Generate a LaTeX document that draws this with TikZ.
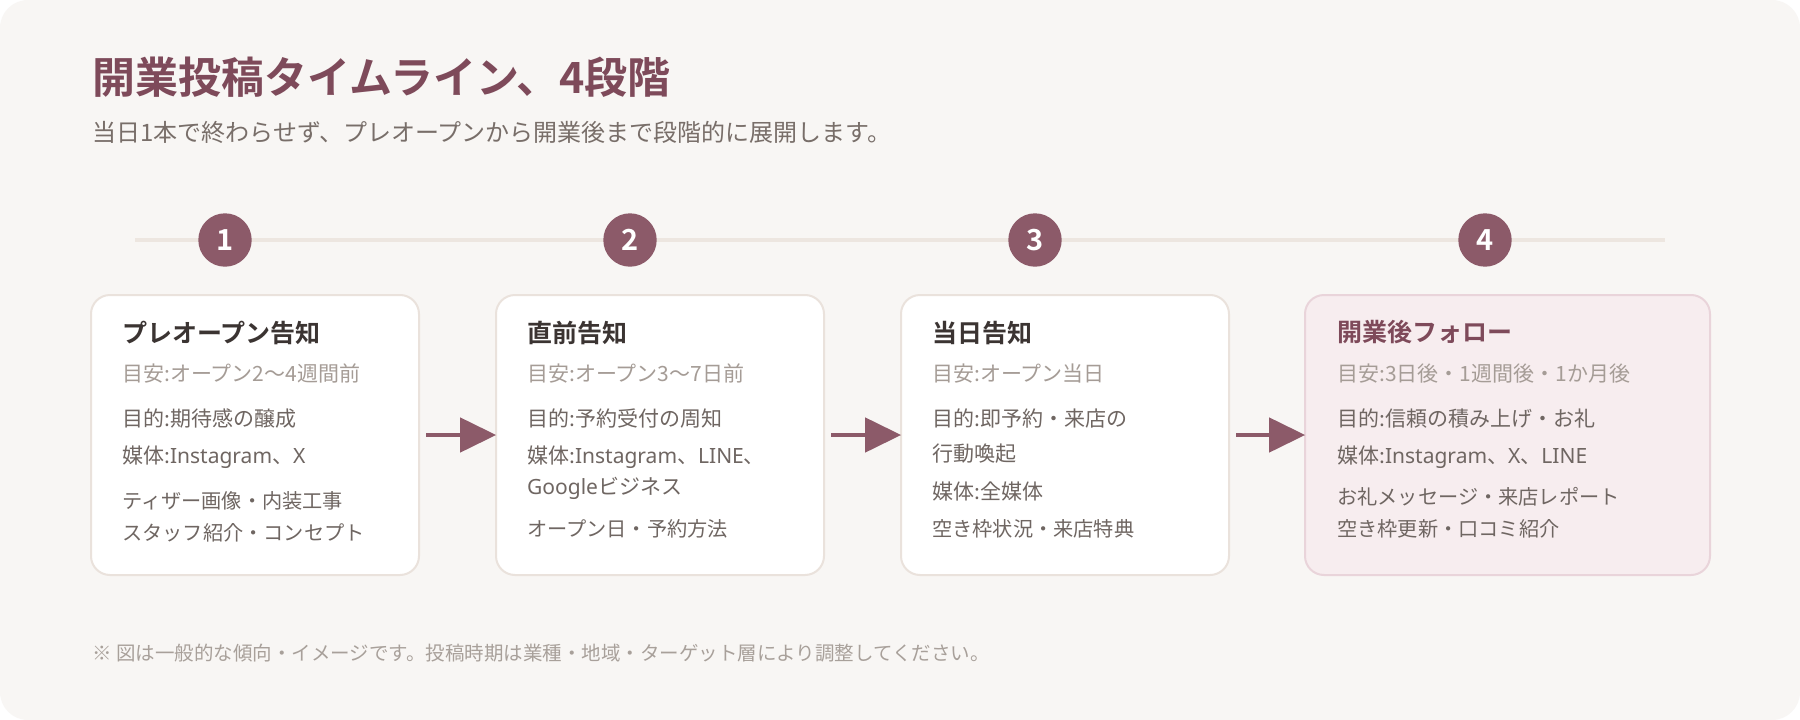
\documentclass[tikz,border=0pt]{standalone}
\usepackage{fontspec}
\setmainfont{Noto Sans CJK JP}[BoldFont={Noto Sans CJK JP Bold}]
\newfontfamily\latin{Noto Sans}
\usetikzlibrary{arrows.meta}
\definecolor{bgc}{HTML}{F8F6F4}
\definecolor{tline}{HTML}{EDE6E0}
\definecolor{mauve}{HTML}{8C5A69}
\definecolor{titlec}{HTML}{7E4A5A}
\definecolor{boxline}{HTML}{EAE2DC}
\definecolor{pinkfill}{HTML}{F7EDEF}
\definecolor{pinkline}{HTML}{E9D4DA}
\definecolor{headc}{HTML}{3B3432}
\definecolor{subc}{HTML}{A59C96}
\definecolor{bodyc}{HTML}{6F6662}
\definecolor{leadc}{HTML}{786E69}
\definecolor{footc}{HTML}{A8A09A}
\newcommand{\lt}[1]{{\latin #1}}
\begin{document}
\begin{tikzpicture}[x=1pt,y=-1pt,
  boxst/.style={draw=boxline, line width=2pt, fill=white, rounded corners=19pt,
    minimum width=328pt, minimum height=280pt, inner sep=0pt, outer sep=0pt, anchor=north west},
  lastbox/.style={boxst, draw=pinkline, fill=pinkfill, minimum width=405pt},
  numst/.style={circle, fill=mauve, minimum size=53.4pt, inner sep=0pt, text=white,
    font=\fontsize{29}{29}\selectfont\bfseries},
  txt/.style={inner sep=0pt, anchor=base west},
  headst/.style={txt, text=headc, font=\fontsize{25}{28}\selectfont\bfseries},
  headpink/.style={headst, text=titlec},
  subst/.style={txt, text=subc, font=\fontsize{21}{25}\selectfont},
  bodyst/.style={txt, text=bodyc, font=\fontsize{21}{25}\selectfont},
  itemst/.style={txt, text=bodyc, font=\fontsize{20.2}{24}\selectfont},
  arr/.style={draw=mauve, line width=4.3pt, shorten <=7pt,
    -{Triangle[length=36pt,width=35.4pt,line width=0pt]}},
  tl/.style={draw=tline, line width=4pt}
]
\useasboundingbox (0,0) rectangle (1800,720);
\fill[white] (0,0) rectangle (1800,720);
\fill[bgc, rounded corners=28pt] (0,0) rectangle (1800,720);

% heading
\node[txt, text=titlec, font=\fontsize{43}{47}\selectfont\bfseries] (title) at (92,93) {開業投稿タイムライン、4段階};
\node[txt, text=leadc, font=\fontsize{24}{28}\selectfont] (lead) at (92,141) {当日1本で終わらせず、プレオープンから開業後まで段階的に展開します。};

% timeline
\coordinate (t0) at (135,240);
\coordinate (t1) at (1665,240);
\draw[tl] (t0) -- (t1);
\node[numst] (n1) at (225,240) {1};
\node[numst] (n2) at (630,240) {2};
\node[numst] (n3) at (1035,240) {3};
\node[numst] (n4) at (1485,240) {4};

% boxes
\node[boxst] (b1) at (91,295) {};
\node[boxst] (b2) at (496,295) {};
\node[boxst] (b3) at (901,295) {};
\node[lastbox] (b4) at (1305,295) {};

% arrows
\draw[arr] (b1.east) -- (b2.west);
\draw[arr] (b2.east) -- (b3.west);
\draw[arr] (b3.east) -- (b4.west);

% box 1
\node[headst] (h1) at (122,342) {プレオープン告知};
\node[subst] (s1) at (122,381) {目安:オープン2〜4週間前};
\node[bodyst] (a1) at (122,426) {目的:期待感の醸成};
\node[bodyst] (m1) at (122,463) {媒体:\lt{Instagram}、\lt{X}};
\node[itemst] (c1a) at (122,508) {ティザー画像・内装工事};
\node[itemst] (c1b) at (122,540) {スタッフ紹介・コンセプト};

% box 2
\node[headst] (h2) at (527,342) {直前告知};
\node[subst] (s2) at (527,381) {目安:オープン3〜7日前};
\node[bodyst] (a2) at (527,426) {目的:予約受付の周知};
\node[bodyst] (m2a) at (527,463) {媒体:\lt{Instagram}、\lt{LINE}、};
\node[bodyst] (m2b) at (527,494.5) {\lt{Google}ビジネス};
\node[itemst] (c2) at (527,536) {オープン日・予約方法};

% box 3
\node[headst] (h3) at (932,342) {当日告知};
\node[subst] (s3) at (932,381) {目安:オープン当日};
\node[bodyst] (a3a) at (932,426) {目的:即予約・来店の};
\node[bodyst] (a3b) at (932,461) {行動喚起};
\node[bodyst] (m3) at (932,499.5) {媒体:全媒体};
\node[itemst] (c3) at (932,536) {空き枠状況・来店特典};

% box 4
\node[headpink] (h4) at (1337,341) {開業後フォロー};
\node[subst] (s4) at (1337,381) {目安:3日後・1週間後・1か月後};
\node[bodyst] (a4) at (1337,426) {目的:信頼の積み上げ・お礼};
\node[bodyst] (m4) at (1337,463) {媒体:\lt{Instagram}、\lt{X}、\lt{LINE}};
\node[itemst] (c4a) at (1337,504.5) {お礼メッセージ・来店レポート};
\node[itemst] (c4b) at (1337,536) {空き枠更新・口コミ紹介};

% footnote
\node[txt, text=footc, font=\fontsize{19.5}{23}\selectfont] (foot) at (92,660) {※ 図は一般的な傾向・イメージです。投稿時期は業種・地域・ターゲット層により調整してください。};
\end{tikzpicture}
\end{document}
